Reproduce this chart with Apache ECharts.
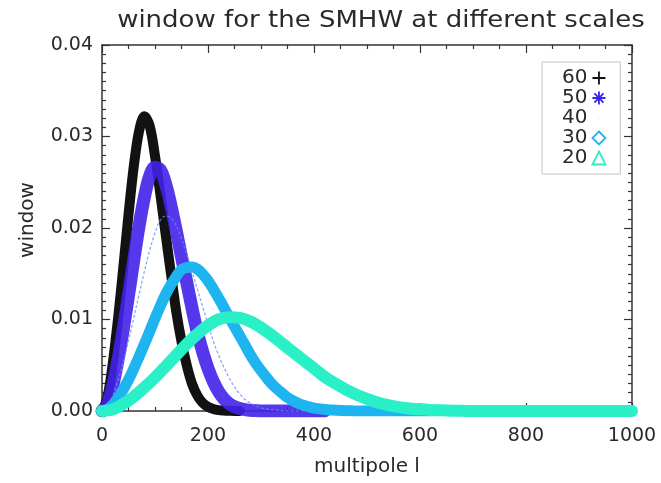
<!DOCTYPE html>
<html>
<head>
<meta charset="utf-8">
<script src="https://cdn.jsdelivr.net/npm/echarts@6/dist/echarts.min.js"></script>
<style>
  html, body { margin: 0; padding: 0; background: #fff; }
  #chart { width: 661px; height: 483px; }
</style>
</head>
<body>
<div id="chart"></div>
<script>
// Multipole grids (l) shared by the curves
const ellFine = [0, 10, 20, 30, 40, 50, 60, 70, 80, 90, 100, 110, 120, 130, 140, 150, 160, 170, 180, 190,
  200, 210, 220, 230, 240, 250, 260, 270, 280, 290, 300, 310, 320, 330, 340, 350, 360, 370, 380, 390,
  400, 410, 420, 430, 440, 450, 460, 470, 480];
const ellCoarse = [0, 20, 40, 60, 80, 100, 120, 140, 160, 180, 200, 220, 240, 260, 280, 300, 320, 340,
  360, 380, 400, 420, 440, 460, 480, 500, 520, 540, 560, 580, 600, 620, 640, 660, 680, 700];
// last multipole plotted (flat zero tail) for each scale: 60, 50, 40, 30, 20
const ellEnd = [260, 420, 460, 620, 1000];

// SMHW window values at each scale
const w60 = [0, 0.00144, 0.00507, 0.00995, 0.01557, 0.02144, 0.02675, 0.03061, 0.0322, 0.03115, 0.02786,
  0.02373, 0.01936, 0.01507, 0.01089, 0.0076, 0.00497, 0.00295, 0.00168, 0.00089, 0.00045, 0.00022,
  0.0001, 0.00005, 0.00002, 0];
const w50 = [0, 0.00068, 0.00268, 0.00554, 0.00891, 0.01261, 0.01652, 0.02024, 0.02338, 0.02569, 0.02664,
  0.02636, 0.02483, 0.02247, 0.01972, 0.01685, 0.01403, 0.0112, 0.0086, 0.00647, 0.00466, 0.00323,
  0.00211, 0.00133, 0.0008, 0.00047, 0.00028, 0.00016, 0.00008, 0.00004, 0];
const w40 = [0, 0.00038, 0.00162, 0.0033, 0.00535, 0.00767, 0.01017, 0.01274, 0.01525, 0.01756, 0.01946,
  0.02086, 0.0213, 0.02111, 0.02026, 0.01883, 0.01712, 0.0152, 0.01329, 0.01139, 0.00951, 0.00763,
  0.00611, 0.00476, 0.00361, 0.00264, 0.00185, 0.00126, 0.00085, 0.00055, 0.00035, 0.00022, 0.00014,
  0.00008, 0.00004, 0];
const w30 = [0, 0.00015, 0.00067, 0.00141, 0.00236, 0.00341, 0.00465, 0.00594, 0.0073, 0.0087, 0.01012,
  0.01146, 0.01273, 0.0138, 0.01469, 0.01545, 0.01566, 0.01573, 0.0155, 0.01496, 0.01424, 0.01333,
  0.01236, 0.01131, 0.01026, 0.00922, 0.0082, 0.00718, 0.00613, 0.00522, 0.00442, 0.00368, 0.00299,
  0.00243, 0.00193, 0.00147, 0.00114, 0.00085, 0.00063, 0.00046, 0.00032, 0.00024, 0.00017, 0.00012,
  0.00009, 0.00006, 0.00004, 0.00002, 0];
const w20 = [0, 0.00018, 0.00077, 0.00157, 0.00256, 0.00366, 0.00486, 0.0061, 0.00731, 0.00841, 0.00934,
  0.01001, 0.01024, 0.01017, 0.00978, 0.00911, 0.00829, 0.00737, 0.00646, 0.00556, 0.00466, 0.00373,
  0.00301, 0.00235, 0.00179, 0.00132, 0.00092, 0.00064, 0.00043, 0.00028, 0.00018, 0.00011, 0.00007,
  0.00004, 0.00002, 0];

const scaleNames = ['60', '50', '40', '30', '20'];
const xTicks = [0, 200, 400, 600, 800, 1000];
const yTicks = [0, 0.01, 0.02, 0.03, 0.04];

function pairs(ell, w, end) {
  const out = w.map((v, i) => [ell[i], v]);
  if (end > out[out.length - 1][0]) out.push([end, 0]);
  return out;
}

const FONT = 'DejaVu Sans';
const INK = '#2a2a2a';

function band(idx, ell, w, color, width, extra) {
  return Object.assign({
    name: scaleNames[idx],
    type: 'line',
    data: pairs(ell, w, ellEnd[idx]),
    smooth: 0.35,
    showSymbol: false,
    symbol: 'none',
    animation: false,
    lineStyle: { color: color, width: width, cap: 'round', join: 'round' },
    itemStyle: { color: color }
  }, extra || {});
}

const chart = echarts.init(document.getElementById('chart'), null, { renderer: 'canvas' });

const axisCommon = {
  axisLine: { show: true, onZero: false, lineStyle: { color: '#333', width: 1.5 } },
  axisTick: { show: true, inside: true, length: 8, lineStyle: { color: '#333', width: 1.2 } },
  splitLine: { show: false }
};

chart.setOption({
  backgroundColor: '#fff',
  animation: false,
  graphic: [{
    type: 'text',
    x: 381,
    y: 21,
    scaleX: 1.13,
    style: {
      text: 'window for the SMHW at different scales',
      font: '23px "' + FONT + '"',
      fill: INK,
      textAlign: 'center',
      textVerticalAlign: 'middle'
    }
  }],
  grid: { left: 102, right: 29, top: 45, bottom: 72 },
  legend: {
    left: 542,
    top: 62,
    orient: 'vertical',
    align: 'right',
    selectedMode: false,
    itemWidth: 13,
    itemHeight: 13,
    itemGap: 0,
    padding: [6, 14, 6, 20],
    borderColor: '#c4c4c4',
    borderWidth: 1,
    textStyle: { fontFamily: FONT, fontSize: 20, lineHeight: 18, color: INK },
    data: [
      { name: '60', icon: 'path://M0,6L12,6M6,0L6,12',
        itemStyle: { color: 'transparent', borderColor: '#111', borderWidth: 1.8 } },
      { name: '50', icon: 'path://M0,6L12,6M6,0L6,12M1.8,1.8L10.2,10.2M10.2,1.8L1.8,10.2',
        itemStyle: { color: 'transparent', borderColor: '#3a22f0', borderWidth: 1.8 } },
      { name: '40', icon: 'path://M0,0L0,0M14,14L14,14M6.5,6.5L7.5,6.5L7.5,7.5L6.5,7.5Z',
        itemStyle: { color: '#c8d4ff', borderWidth: 0 } },
      { name: '30', icon: 'diamond',
        itemStyle: { color: 'transparent', borderColor: '#1eb4f0', borderWidth: 1.8 } },
      { name: '20', icon: 'triangle',
        itemStyle: { color: 'transparent', borderColor: '#2af0c8', borderWidth: 1.8 } }
    ]
  },
  xAxis: [
    Object.assign({}, axisCommon, {
      type: 'value', position: 'bottom',
      min: xTicks[0], max: xTicks[xTicks.length - 1], interval: 200,
      name: 'multipole l', nameLocation: 'middle', nameGap: 46,
      nameTextStyle: { fontFamily: FONT, fontSize: 20, color: INK },
      axisLabel: { show: true, margin: 16, fontFamily: FONT, fontSize: 19, color: INK,
        formatter: v => String(v) },
      minorTick: { show: true, splitNumber: 4, length: 4, lineStyle: { color: '#333', width: 1.2 } }
    }),
    Object.assign({}, axisCommon, {
      type: 'value', position: 'top',
      min: xTicks[0], max: xTicks[xTicks.length - 1], interval: 200,
      axisLabel: { show: false },
      minorTick: { show: true, splitNumber: 4, length: 4, lineStyle: { color: '#333', width: 1.2 } }
    })
  ],
  yAxis: [
    Object.assign({}, axisCommon, {
      type: 'value', position: 'left',
      min: yTicks[0], max: yTicks[yTicks.length - 1], interval: 0.01,
      name: 'window', nameLocation: 'middle', nameGap: 64, nameRotate: 90,
      nameTextStyle: { fontFamily: FONT, fontSize: 20, color: INK, padding: [0, 0, 0, 16] },
      axisLabel: { show: true, margin: 9, fontFamily: FONT, fontSize: 19, color: INK,
        formatter: v => v.toFixed(2) },
      minorTick: { show: true, splitNumber: 10, length: 4, lineStyle: { color: '#333', width: 1.2 } }
    }),
    Object.assign({}, axisCommon, {
      type: 'value', position: 'right',
      min: yTicks[0], max: yTicks[yTicks.length - 1], interval: 0.01,
      axisLabel: { show: false },
      minorTick: { show: true, splitNumber: 10, length: 4, lineStyle: { color: '#333', width: 1.2 } }
    })
  ],
  series: [
    band(0, ellFine, w60, '#121212', 10),
    band(1, ellFine, w50, 'rgba(68,34,234,0.9)', 13),
    band(2, ellFine, w40, 'rgba(96,140,255,0.75)', 1.3,
      { lineStyle: { color: 'rgba(96,140,255,0.75)', width: 1.3, type: [3, 2] } }),
    band(3, ellFine, w30, '#1eb4f0', 11),
    band(4, ellCoarse, w20, '#2af0c8', 12)
  ]
});
</script>
</body>
</html>
